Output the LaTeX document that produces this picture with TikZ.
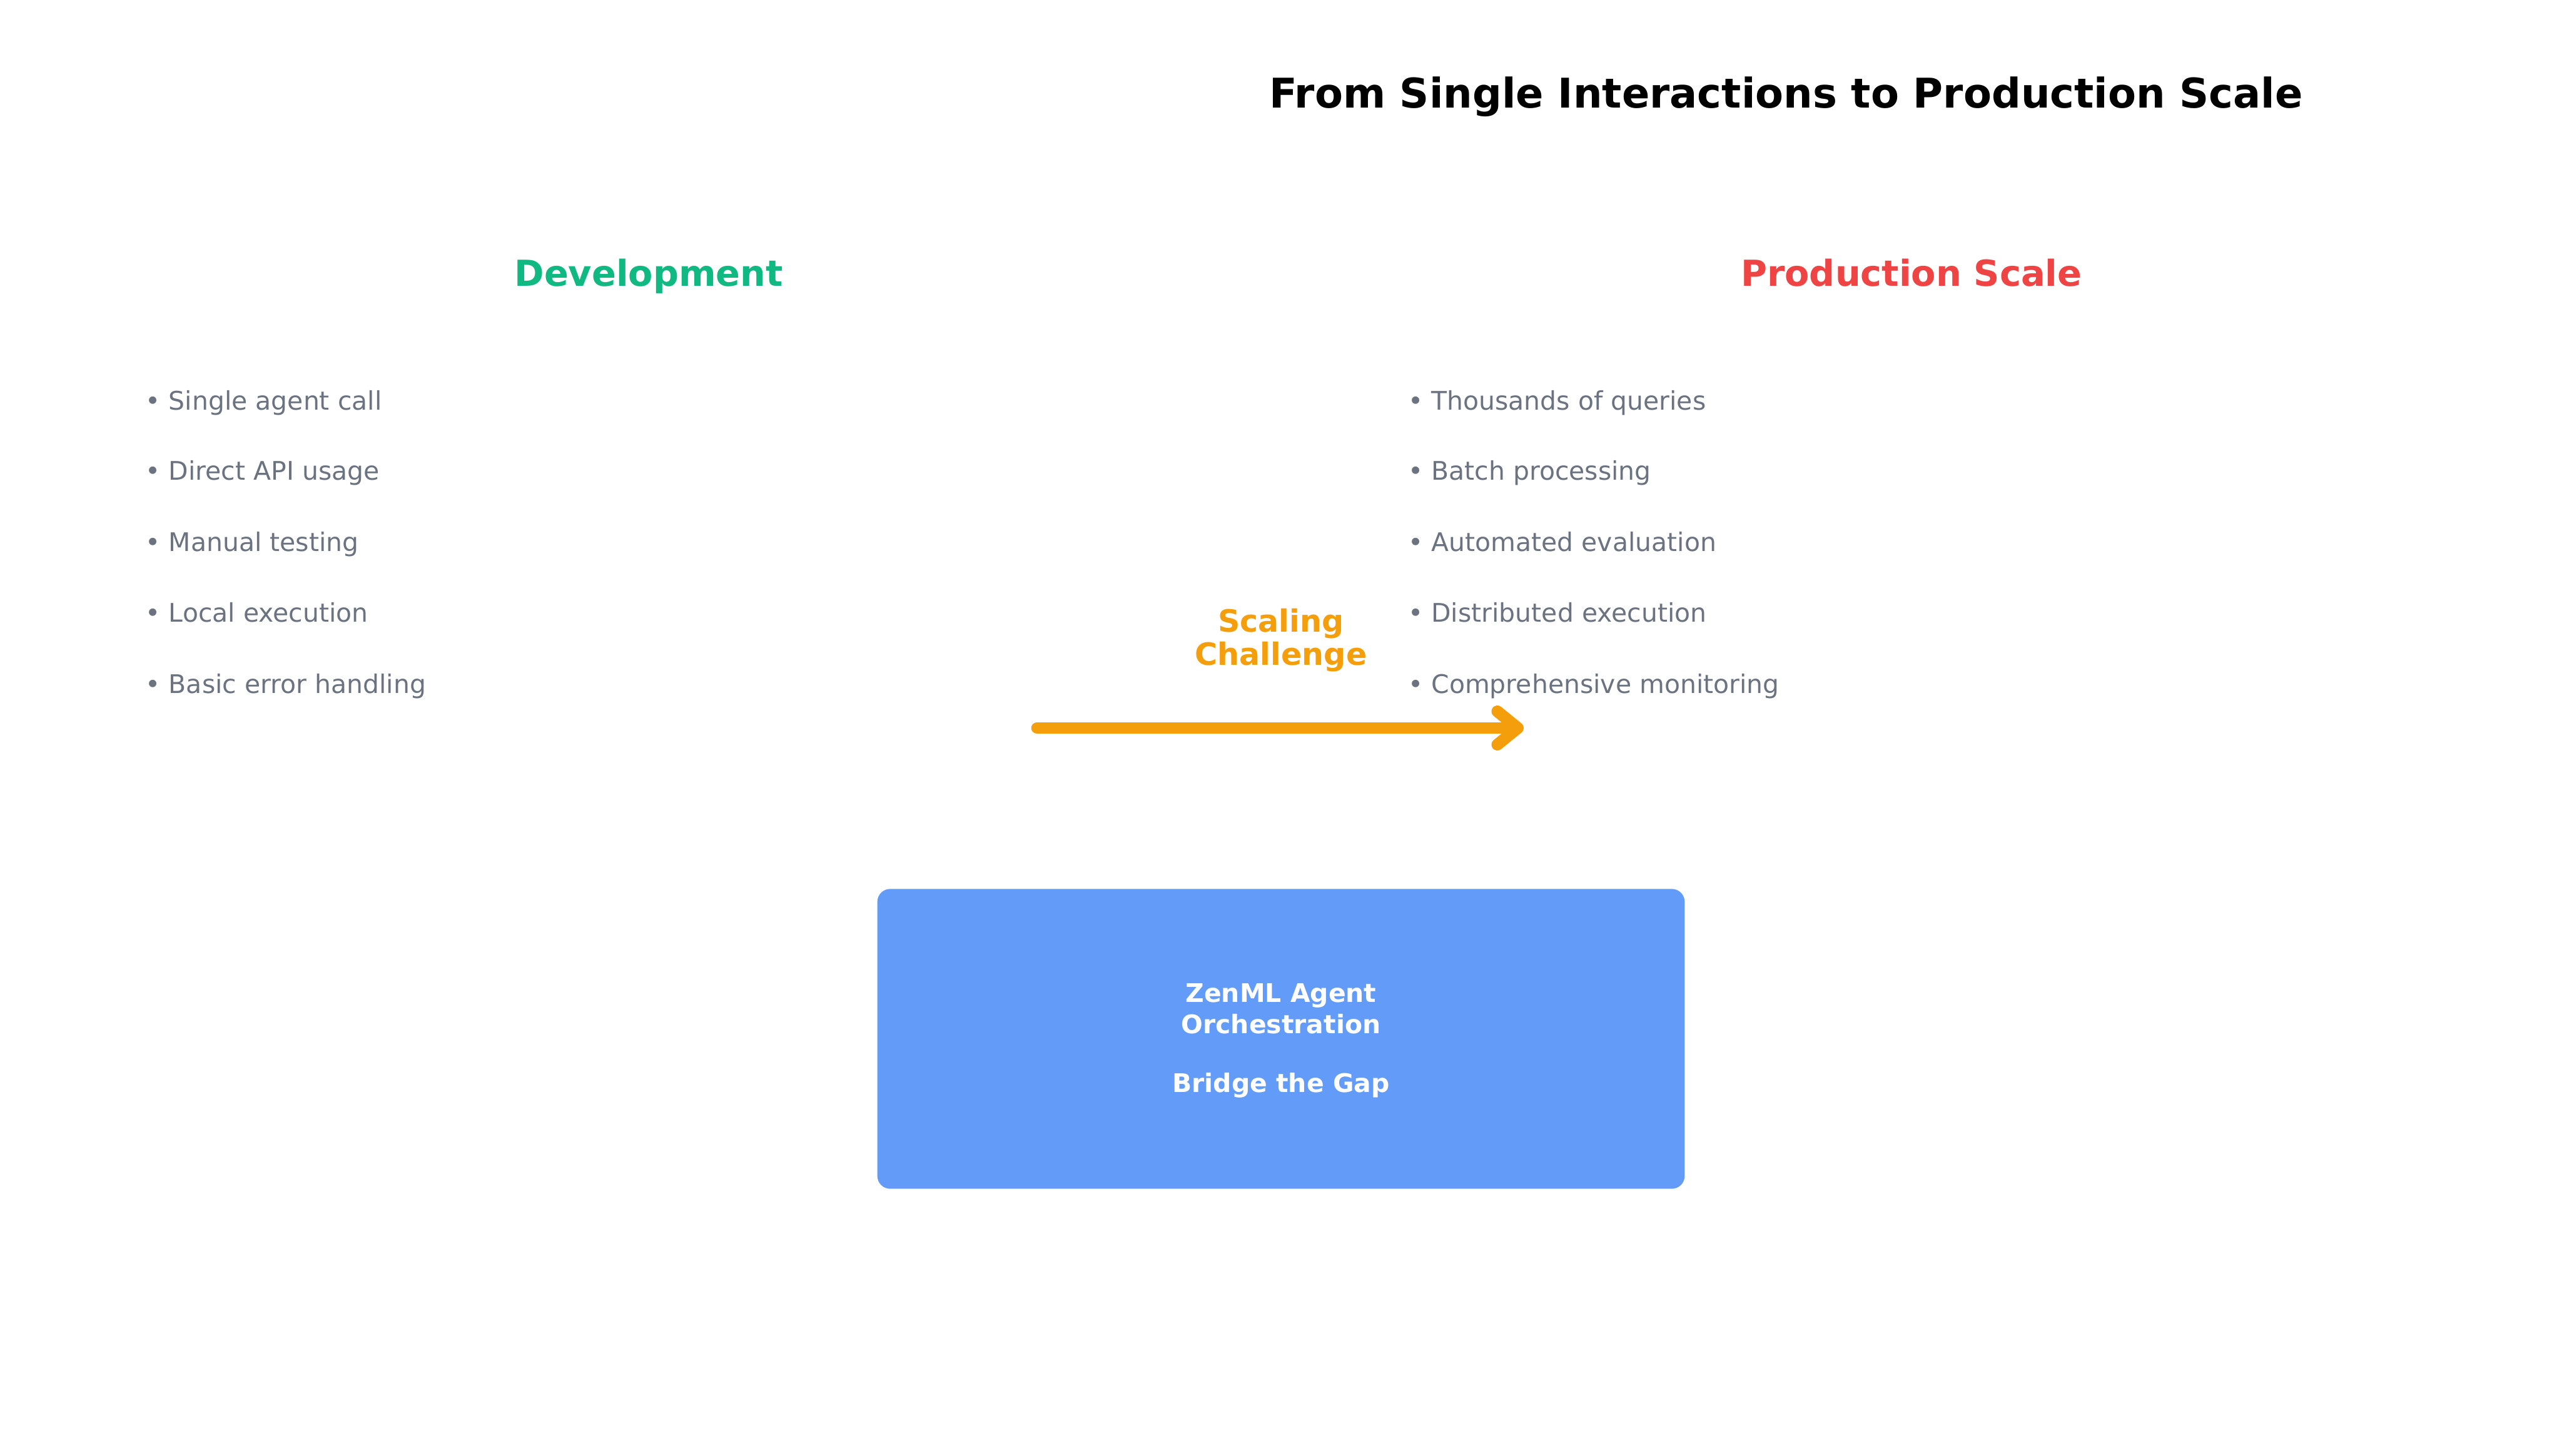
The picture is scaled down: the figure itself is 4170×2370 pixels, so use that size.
\documentclass[tikz,border=0pt]{standalone}
\usepackage{fontspec}
\setmainfont{DejaVu Sans}
\usetikzlibrary{arrows.meta}
\definecolor{devgreen}{HTML}{10B981}
\definecolor{prodred}{HTML}{EF4444}
\definecolor{bulletgray}{HTML}{6B7280}
\definecolor{scaleorange}{HTML}{F59E0B}
\definecolor{boxblue}{HTML}{629BF8}
\begin{document}
\begin{tikzpicture}[x=0.24pt,y=-0.24pt,
  every node/.style={inner sep=0pt,outer sep=0pt,text height=0.76em,text depth=0.24em},
  titletext/.style={font=\fontsize{16}{19}\selectfont\bfseries,text=black},
  headtext/.style={font=\fontsize{14}{17}\selectfont\bfseries},
  bullettext/.style={font=\fontsize{10}{12}\selectfont,text=bulletgray,anchor=west},
  scaletext/.style={font=\fontsize{12}{14}\selectfont\bfseries,text=scaleorange},
  boxtext/.style={font=\fontsize{10}{12}\selectfont\bfseries,text=white},
  bridgebox/.style={fill=boxblue,rounded corners=5pt,draw=none},
  scalearrow/.style={draw=scaleorange,line width=4.6pt,line cap=round,line join=round,
    -{Straight Barb[length=8pt,width=13pt,line cap=round,line join=round]}}
]
\path[use as bounding box,fill=white] (0,0) rectangle (4170,2370);

\node[titletext] (title) at (2907,165) {From Single Interactions to Production Scale};

\node[headtext,text=devgreen] (dev) at (1056,455) {Development};
\node[headtext,text=prodred] (prod) at (3111,455) {Production Scale};

\node[bullettext] (d1) at (237,656) {• Single agent call};
\node[bullettext] (d2) at (237,771) {• Direct API usage};
\node[bullettext] (d3) at (237,887) {• Manual testing};
\node[bullettext] (d4) at (237,1002) {• Local execution};
\node[bullettext] (d5) at (237,1118) {• Basic error handling};

\node[bullettext] (p1) at (2292,656) {• Thousands of queries};
\node[bullettext] (p2) at (2292,771) {• Batch processing};
\node[bullettext] (p3) at (2292,887) {• Automated evaluation};
\node[bullettext] (p4) at (2292,1002) {• Distributed execution};
\node[bullettext] (p5) at (2292,1118) {• Comprehensive monitoring};

\node[scaletext] (sc1) at (2085,1018) {Scaling};
\node[scaletext] (sc2) at (2085,1072) {Challenge};

\coordinate (arrowstart) at (1688,1185);
\coordinate (arrowend) at (2480,1185);
\draw[scalearrow] (arrowstart) -- (arrowend);

\path[bridgebox] (1428,1447) rectangle (2742,1935);
\node[boxtext] (b1) at (2085,1621) {ZenML Agent};
\node[boxtext] (b2) at (2085,1671) {Orchestration};
\node[boxtext] (b3) at (2085,1767) {Bridge the Gap};
\end{tikzpicture}
\end{document}
